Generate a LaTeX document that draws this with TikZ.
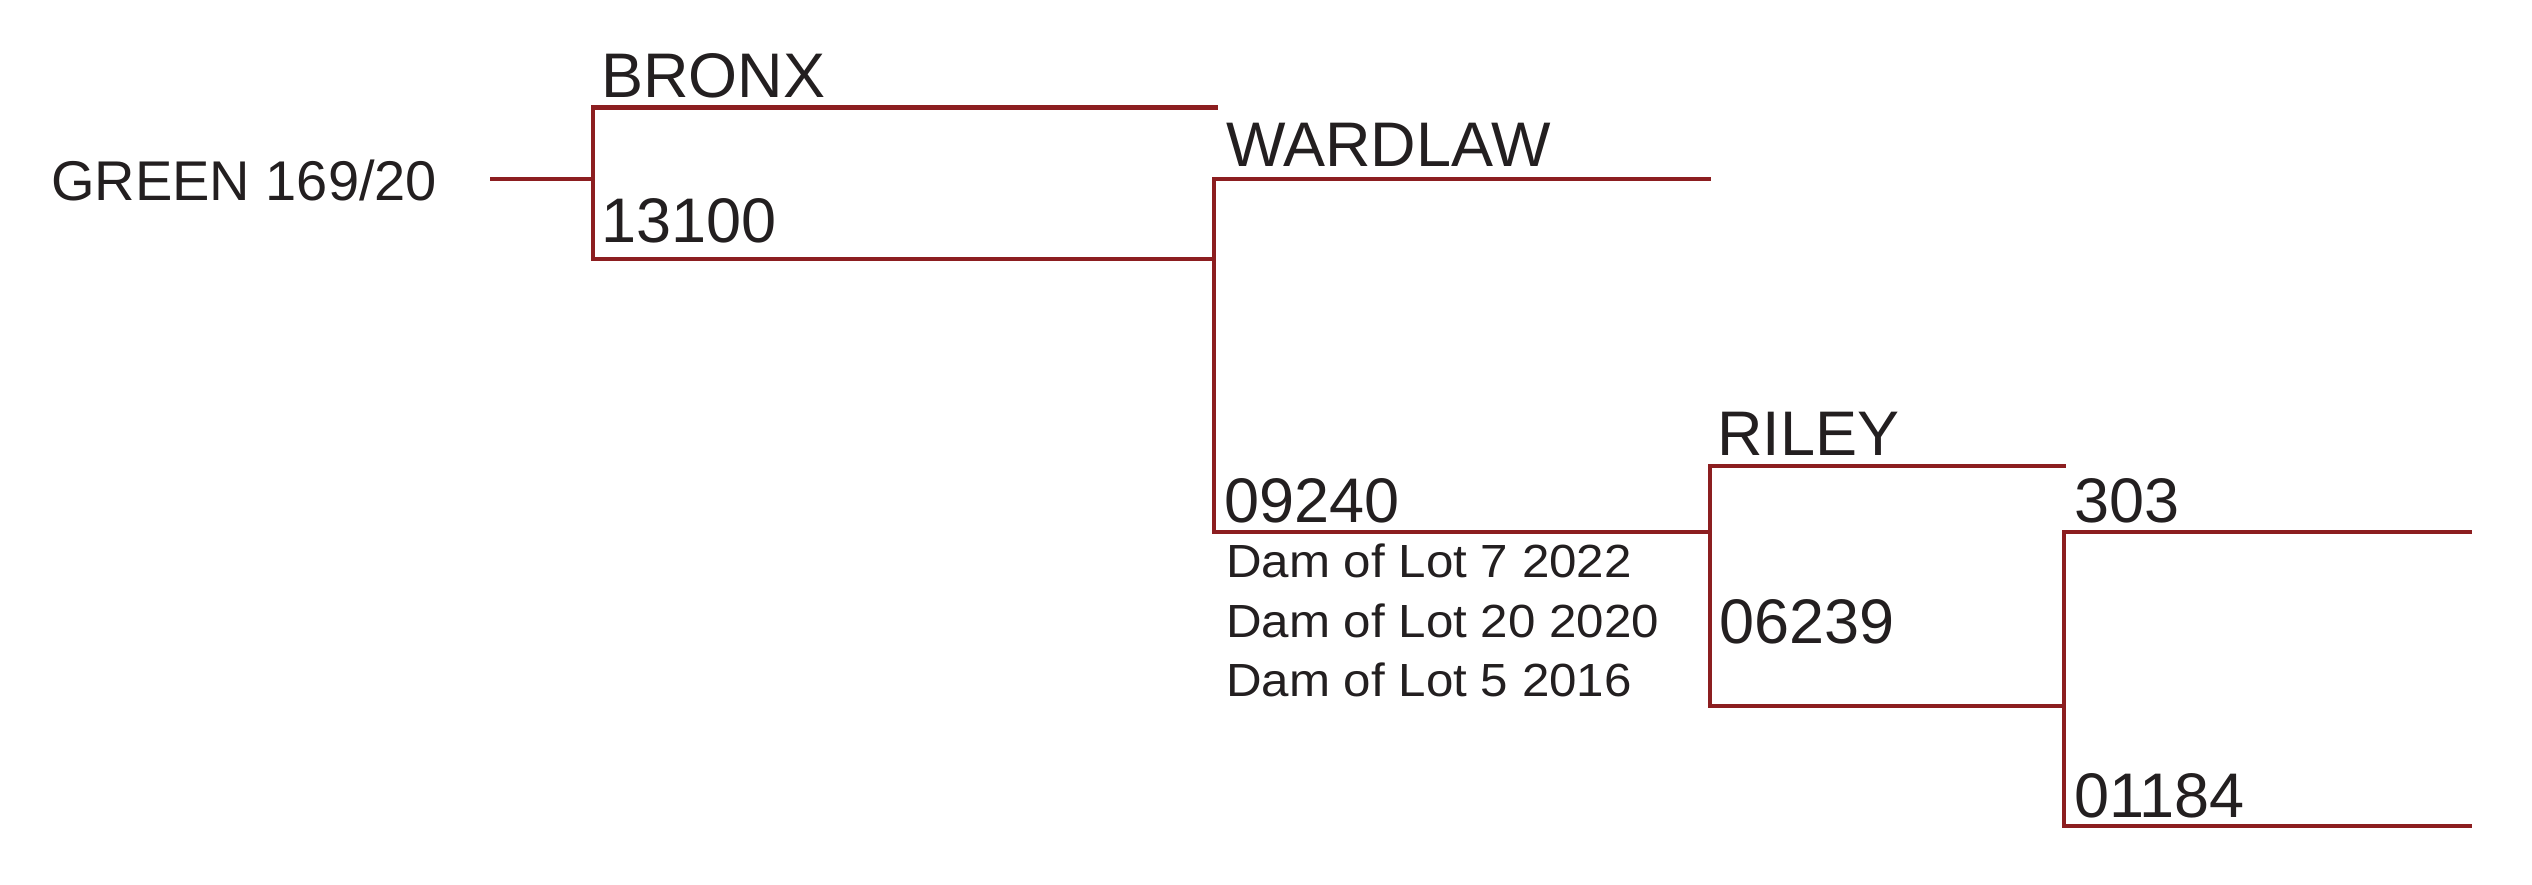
\documentclass[tikz,border=0pt]{standalone}
\usepackage{fontspec}
\setmainfont{Liberation Sans}
\newfontfamily\damfont[FakeStretch=1.06]{Liberation Sans}
\definecolor{pedred}{RGB}{140,30,32}
\definecolor{pedtext}{RGB}{35,31,32}
\begin{document}
\begin{tikzpicture}[x=1pt,y=-1pt,
  hline/.style={draw=pedred,line width=4.3pt,line cap=rect},
  vline/.style={draw=pedred,line width=3.7pt},
  bigname/.style={anchor=base west,inner sep=0pt,text=pedtext,font=\fontsize{63}{70}\selectfont},
  rootname/.style={anchor=base west,inner sep=0pt,text=pedtext,font=\fontsize{56}{62}\selectfont},
  damnote/.style={anchor=base west,inner sep=0pt,text=pedtext,font=\damfont\fontsize{46.5}{52}\selectfont}]
\useasboundingbox (0,0) rectangle (2532,885);
% texts
\node[rootname] (green) at (51,201) {GREEN 169/20};
\node[bigname] (bronx) at (601,98) {BRONX};
\node[bigname] (n13100) at (601,243) {13100};
\node[bigname] (wardlaw) at (1226,166.7) {WARDLAW};
\node[bigname] (n09240) at (1224,522) {09240};
\node[damnote] (dam1) at (1226,577.7) {Dam of Lot 7 2022};
\node[damnote] (dam2) at (1226,637) {Dam of Lot 20 2020};
\node[damnote] (dam3) at (1226,696) {Dam of Lot 5 2016};
\node[bigname] (riley) at (1717,455) {RILEY};
\node[bigname] (n06239) at (1719,643) {06239};
\node[bigname] (n303) at (2074,522) {303};
\node[bigname] (n01184) at (2074,817) {01184};
% junction coordinates
\coordinate (r0) at (492,179.3);
\coordinate (b1) at (593,179.3);
\coordinate (b1t) at (593,107.5);
\coordinate (b1b) at (593,259.3);
\coordinate (b1te) at (1216,107.5);
\coordinate (b1be) at (1214,259.3);
\coordinate (b2t) at (1214,179.3);
\coordinate (b2te) at (1709,179.3);
\coordinate (b2b) at (1214,532.3);
\coordinate (b2be) at (1710,532.3);
\coordinate (b3t) at (1710,466);
\coordinate (b3te) at (2064,466);
\coordinate (b3b) at (1710,706);
\coordinate (b3be) at (2064,706);
\coordinate (b4t) at (2064,532.3);
\coordinate (b4te) at (2470,532.3);
\coordinate (b4b) at (2064,826);
\coordinate (b4be) at (2470,826);
% horizontals
\draw[hline] (r0) -- (b1);
\draw[hline] (b1t) -- (b1te);
\draw[hline] (b1b) -- (b1be);
\draw[hline] (b2t) -- (b2te);
\draw[hline] (b2b) -- (b2be);
\draw[hline] (b3t) -- (b3te);
\draw[hline] (b3b) -- (b3be);
\draw[hline] (b4t) -- (b4te);
\draw[hline] (b4b) -- (b4be);
% verticals
\draw[vline] (b1t) -- (b1b);
\draw[vline] (b2t) -- (b2b);
\draw[vline] (b3t) -- (b3b);
\draw[vline] (b4t) -- (b4b);
\end{tikzpicture}
\end{document}
